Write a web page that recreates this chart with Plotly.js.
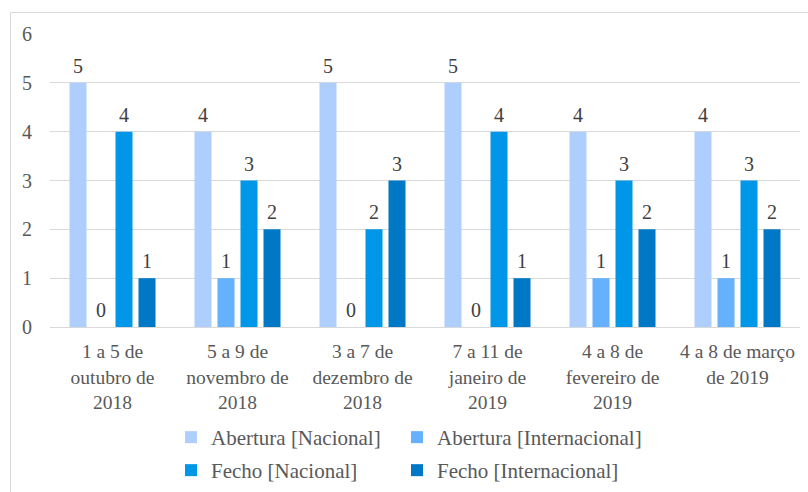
<!DOCTYPE html>
<html>
<head>
<meta charset="utf-8">
<script src="https://cdn.plot.ly/plotly-3.0.1.min.js"></script>
<style>
html,body{margin:0;padding:0;background:#fff;}
#chart{width:808px;height:492px;}
</style>
</head>
<body>
<div id="chart"></div>
<script>
const categories = [
  "1 a 5 de<br>outubro de<br>2018",
  "5 a 9 de<br>novembro de<br>2018",
  "3 a 7 de<br>dezembro de<br>2018",
  "7 a 11 de<br>janeiro de<br>2019",
  "4 a 8 de<br>fevereiro de<br>2019",
  "4 a 8 de março<br>de 2019"
];
const seriesNames = ["Abertura [Nacional]", "Abertura [Internacional]", "Fecho [Nacional]", "Fecho [Internacional]"];
const aberturaNacional = [5, 4, 5, 5, 4, 4];
const aberturaInternacional = [0, 1, 0, 0, 1, 1];
const fechoNacional = [4, 3, 2, 4, 3, 3];
const fechoInternacional = [1, 2, 3, 1, 2, 2];
const colors = ["#AECFFE", "#66B1FE", "#0097E8", "#0078C6"];
const legendIds = ["legend", "legend2", "legend3", "legend4"];

const allValues = [aberturaNacional, aberturaInternacional, fechoNacional, fechoInternacional];
const font = "'Liberation Serif', 'Times New Roman', Times, serif";
const labelLift = 0.06; // small visual gap (axis units) between bar top and its value label

const traces = [];
allValues.forEach((vals, i) => {
  traces.push({
    type: "bar",
    name: seriesNames[i],
    x: categories,
    y: vals,
    offsetgroup: "g" + i,
    marker: {color: colors[i], line: {width: 0}},
    legend: legendIds[i],
    hoverinfo: "skip"
  });
});
allValues.forEach((vals, i) => {
  traces.push({
    type: "bar",
    name: seriesNames[i] + " rótulos",
    x: categories,
    y: vals.map(() => labelLift),
    base: vals,
    offsetgroup: "g" + i,
    marker: {color: "rgba(0,0,0,0)", line: {width: 0}},
    text: vals.map(String),
    textposition: "outside",
    textfont: {family: font, size: 20, color: "#404040"},
    cliponaxis: false,
    showlegend: false,
    hoverinfo: "skip"
  });
});

const L = 50, R = 8, T = 34, B = 165;
const W = 808, H = 492;
const pw = W - L - R, ph = H - T - B;
const px = x => (x - L) / pw;
const py = y => (H - B - y) / ph;
const cy = y => 1 - y / H;

const legendBase = {
  orientation: "h",
  xref: "container", yref: "container",
  xanchor: "left", yanchor: "top",
  font: {family: font, size: 21, color: "#595959"},
  bgcolor: "rgba(0,0,0,0)",
  traceorder: "normal"
};
const col1 = 171, col2 = 397, row1 = 417, row2 = 450;

const layout = {
  width: W, height: H,
  margin: {l: L, r: R, t: T, b: B, autoexpand: false},
  paper_bgcolor: "#fff",
  plot_bgcolor: "#fff",
  barmode: "group",
  bargap: 0.264,
  bargroupgap: 0.26,
  font: {family: font, size: 20, color: "#595959"},
  xaxis: {
    type: "category",
    showgrid: false,
    showline: true,
    linecolor: "#d9d9d9",
    linewidth: 1,
    ticks: "",
    tickfont: {family: font, size: 19.5, color: "#595959"},
    ticklabelstandoff: 7,
    automargin: false,
    fixedrange: true
  },
  yaxis: {
    range: [0, 6],
    dtick: 1,
    tick0: 0,
    showgrid: true,
    gridcolor: "#d9d9d9",
    gridwidth: 1,
    zeroline: true,
    zerolinecolor: "#d9d9d9",
    showline: false,
    ticks: "",
    tickfont: {family: font, size: 20, color: "#595959"},
    ticklabelstandoff: 17,
    automargin: false,
    fixedrange: true
  },
  showlegend: true,
  legend: Object.assign({}, legendBase, {x: col1 / W, y: cy(row1)}),
  legend2: Object.assign({}, legendBase, {x: col2 / W, y: cy(row1)}),
  legend3: Object.assign({}, legendBase, {x: col1 / W, y: cy(row2)}),
  legend4: Object.assign({}, legendBase, {x: col2 / W, y: cy(row2)}),
  shapes: [
    {type: "line", xref: "paper", yref: "paper", x0: px(10.5), x1: px(830), y0: py(12.5), y1: py(12.5), line: {color: "#d9d9d9", width: 1}},
    {type: "line", xref: "paper", yref: "paper", x0: px(10.5), x1: px(10.5), y0: py(12.5), y1: py(520), line: {color: "#d9d9d9", width: 1}}
  ]
};

Plotly.newPlot("chart", traces, layout, {displayModeBar: false, staticPlot: true});
</script>
</body>
</html>
